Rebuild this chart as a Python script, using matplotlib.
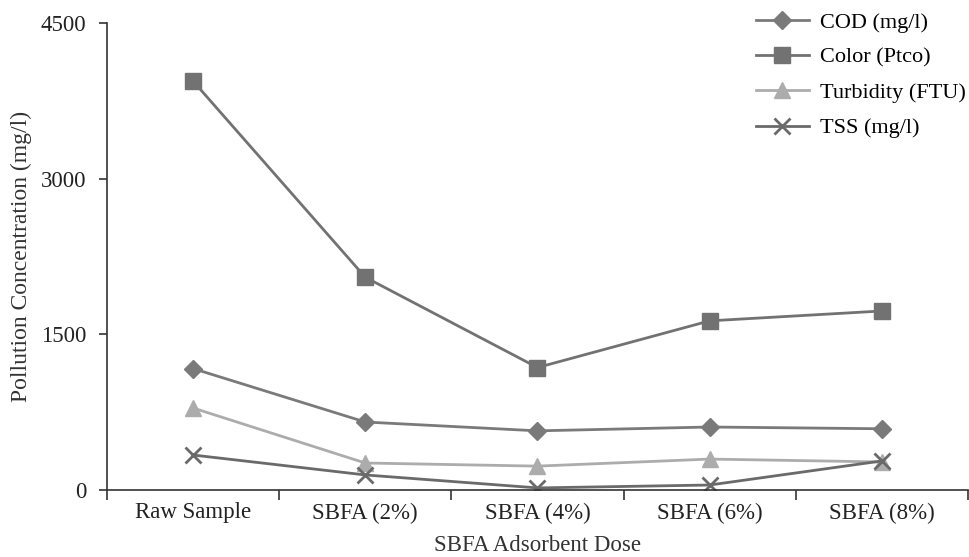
import matplotlib.pyplot as plt
import numpy as np

plt.rcParams['font.family'] = ['Liberation Serif', 'DejaVu Serif']

doses = ['Raw Sample', 'SBFA (2%)', 'SBFA (4%)', 'SBFA (6%)', 'SBFA (8%)']
cod = [1170, 655, 570, 607, 590]
color = [3940, 2050, 1180, 1630, 1725]
turbidity = [790, 260, 230, 298, 270]
tss = [337, 145, 20, 48, 280]

x = np.arange(len(doses))

fig = plt.figure(figsize=(9.7, 5.57), dpi=100)
ax = fig.add_axes([0.1103, 0.1203, 0.8876, 0.8384])

ax.plot(x, cod, color='#7a7a7a', lw=2, marker='D', ms=9, label='COD (mg/l)')
ax.plot(x, color, color='#727272', lw=2, marker='s', ms=12, label='Color (Ptco)')
ax.plot(x, turbidity, color='#acacac', lw=2, marker='^', ms=11, label='Turbidity (FTU)')
ax.plot(x, tss, color='#6a6a6a', lw=2, marker='x', ms=12, mew=2, label='TSS (mg/l)')

ax.set_xlim(-0.5, len(doses) - 0.5)
ax.set_ylim(0, 4500)
ax.set_yticks([0, 1500, 3000, 4500])
ax.set_xticks(x)
ax.set_xticklabels(doses)
ax.set_xticks(np.arange(-0.5, len(doses), 1), minor=True)
ax.tick_params(axis='x', which='major', length=0, pad=9, labelsize=16.5, labelcolor='#222222')
ax.tick_params(axis='x', which='minor', length=7, width=1.2, color='#333333')
ax.tick_params(axis='y', length=6, width=1.2, color='#333333', labelsize=16.5,
               pad=9, labelcolor='#222222')

for s in ['top', 'right']:
    ax.spines[s].set_visible(False)
for s in ['left', 'bottom']:
    ax.spines[s].set_linewidth(1.2)
    ax.spines[s].set_color('#333333')

ax.set_ylabel('Pollution Concentration (mg/l)', fontsize=17, color='#333333', labelpad=6)
ax.set_xlabel('SBFA Adsorbent Dose', fontsize=16.5, color='#333333', labelpad=8)

ax.legend(loc='upper right', bbox_to_anchor=(1.021, 1.066), frameon=False,
          fontsize=16, handlelength=2.4, handletextpad=0.5, labelspacing=0.66)

fig.savefig('out.png', dpi=100)
